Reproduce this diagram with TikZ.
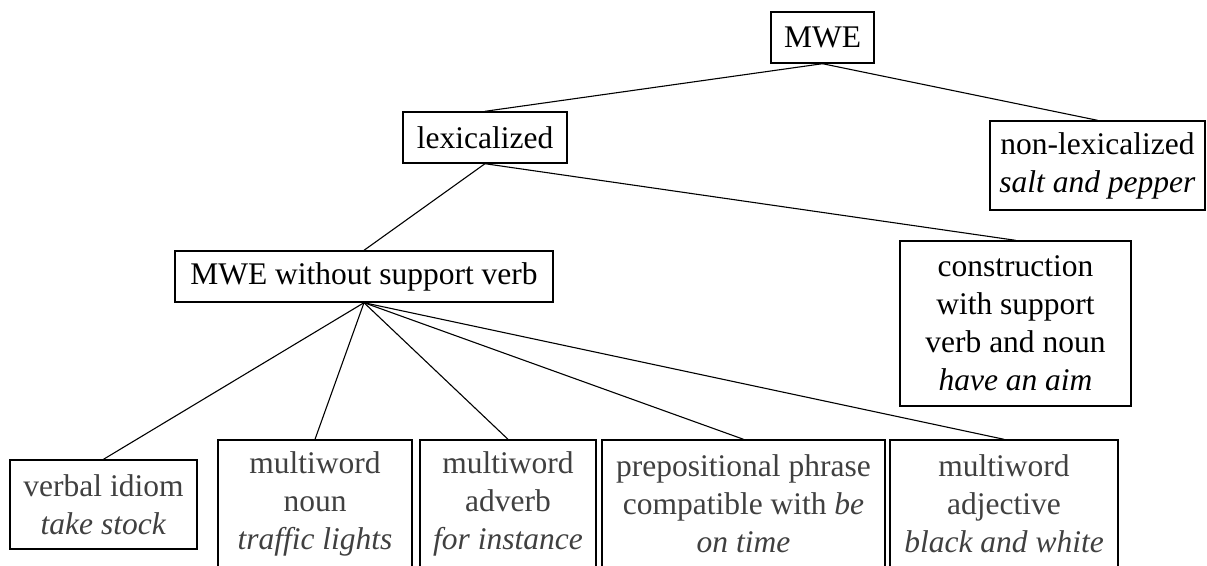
\documentclass[tikz,border=0pt]{standalone}
\usepackage{fontspec}
\setmainfont{Liberation Serif}
\definecolor{leaftext}{gray}{0.25}
\tikzset{
	box/.style={draw,line width=1.4pt,align=center,inner sep=0pt,font=\fontsize{31.5}{38}\selectfont},
	leaf/.style={box,text=leaftext},
	branch/.style={line width=1.1pt}
}
\begin{document}
\begin{tikzpicture}[x=1pt,y=-1pt]
			\useasboundingbox (0,0) rectangle (1207,565);
			\node[box,minimum width=103,minimum height=51] (mwe) at (822.5,37.5) {MWE};
			\node[box,minimum width=164,minimum height=51] (lex) at (485,137.5) {lexicalized};
			\node[box,minimum width=215,minimum height=89] (nonlex) at (1097.5,165.5) {non-lexicalized\\\textit{salt and pepper}};
			\node[box,minimum width=378,minimum height=51] (wosv) at (364,276.5) {MWE without support verb};
			\node[box,minimum width=231,minimum height=165] (csv) at (1015.5,323.5) {construction\\with support\\verb and noun\\\textit{have an aim}};
			\node[leaf,minimum width=187,minimum height=89] (idiom) at (103.5,504.5) {verbal idiom\\\textit{take stock}};
			\node[leaf,minimum width=194,minimum height=127] (noun) at (315,503.5) {multiword\\noun\\\textit{traffic lights}};
			\node[leaf,minimum width=176,minimum height=127] (adverb) at (508,503.5) {multiword\\adverb\\\textit{for instance}};
			\node[leaf,minimum width=283,minimum height=127] (prep) at (743.5,503.5) {prepositional phrase\\compatible with \textit{be}\\\textit{on time}};
			\node[leaf,minimum width=228,minimum height=127] (adj) at (1004,503.5) {multiword\\adjective\\\textit{black and white}};
			\path (mwe.south) edge[branch] (lex.north);
			\path (mwe.south) edge[branch] (nonlex.north);
			\path (lex.south) edge[branch] (wosv.north);
			\path (lex.south) edge[branch] (csv.north);
			\path (wosv.south) edge[branch] (idiom.north);
			\path (wosv.south) edge[branch] (noun.north);
			\path (wosv.south) edge[branch] (adverb.north);
			\path (wosv.south) edge[branch] (prep.north);
			\path (wosv.south) edge[branch] (adj.north);
		\end{tikzpicture}
\end{document}
